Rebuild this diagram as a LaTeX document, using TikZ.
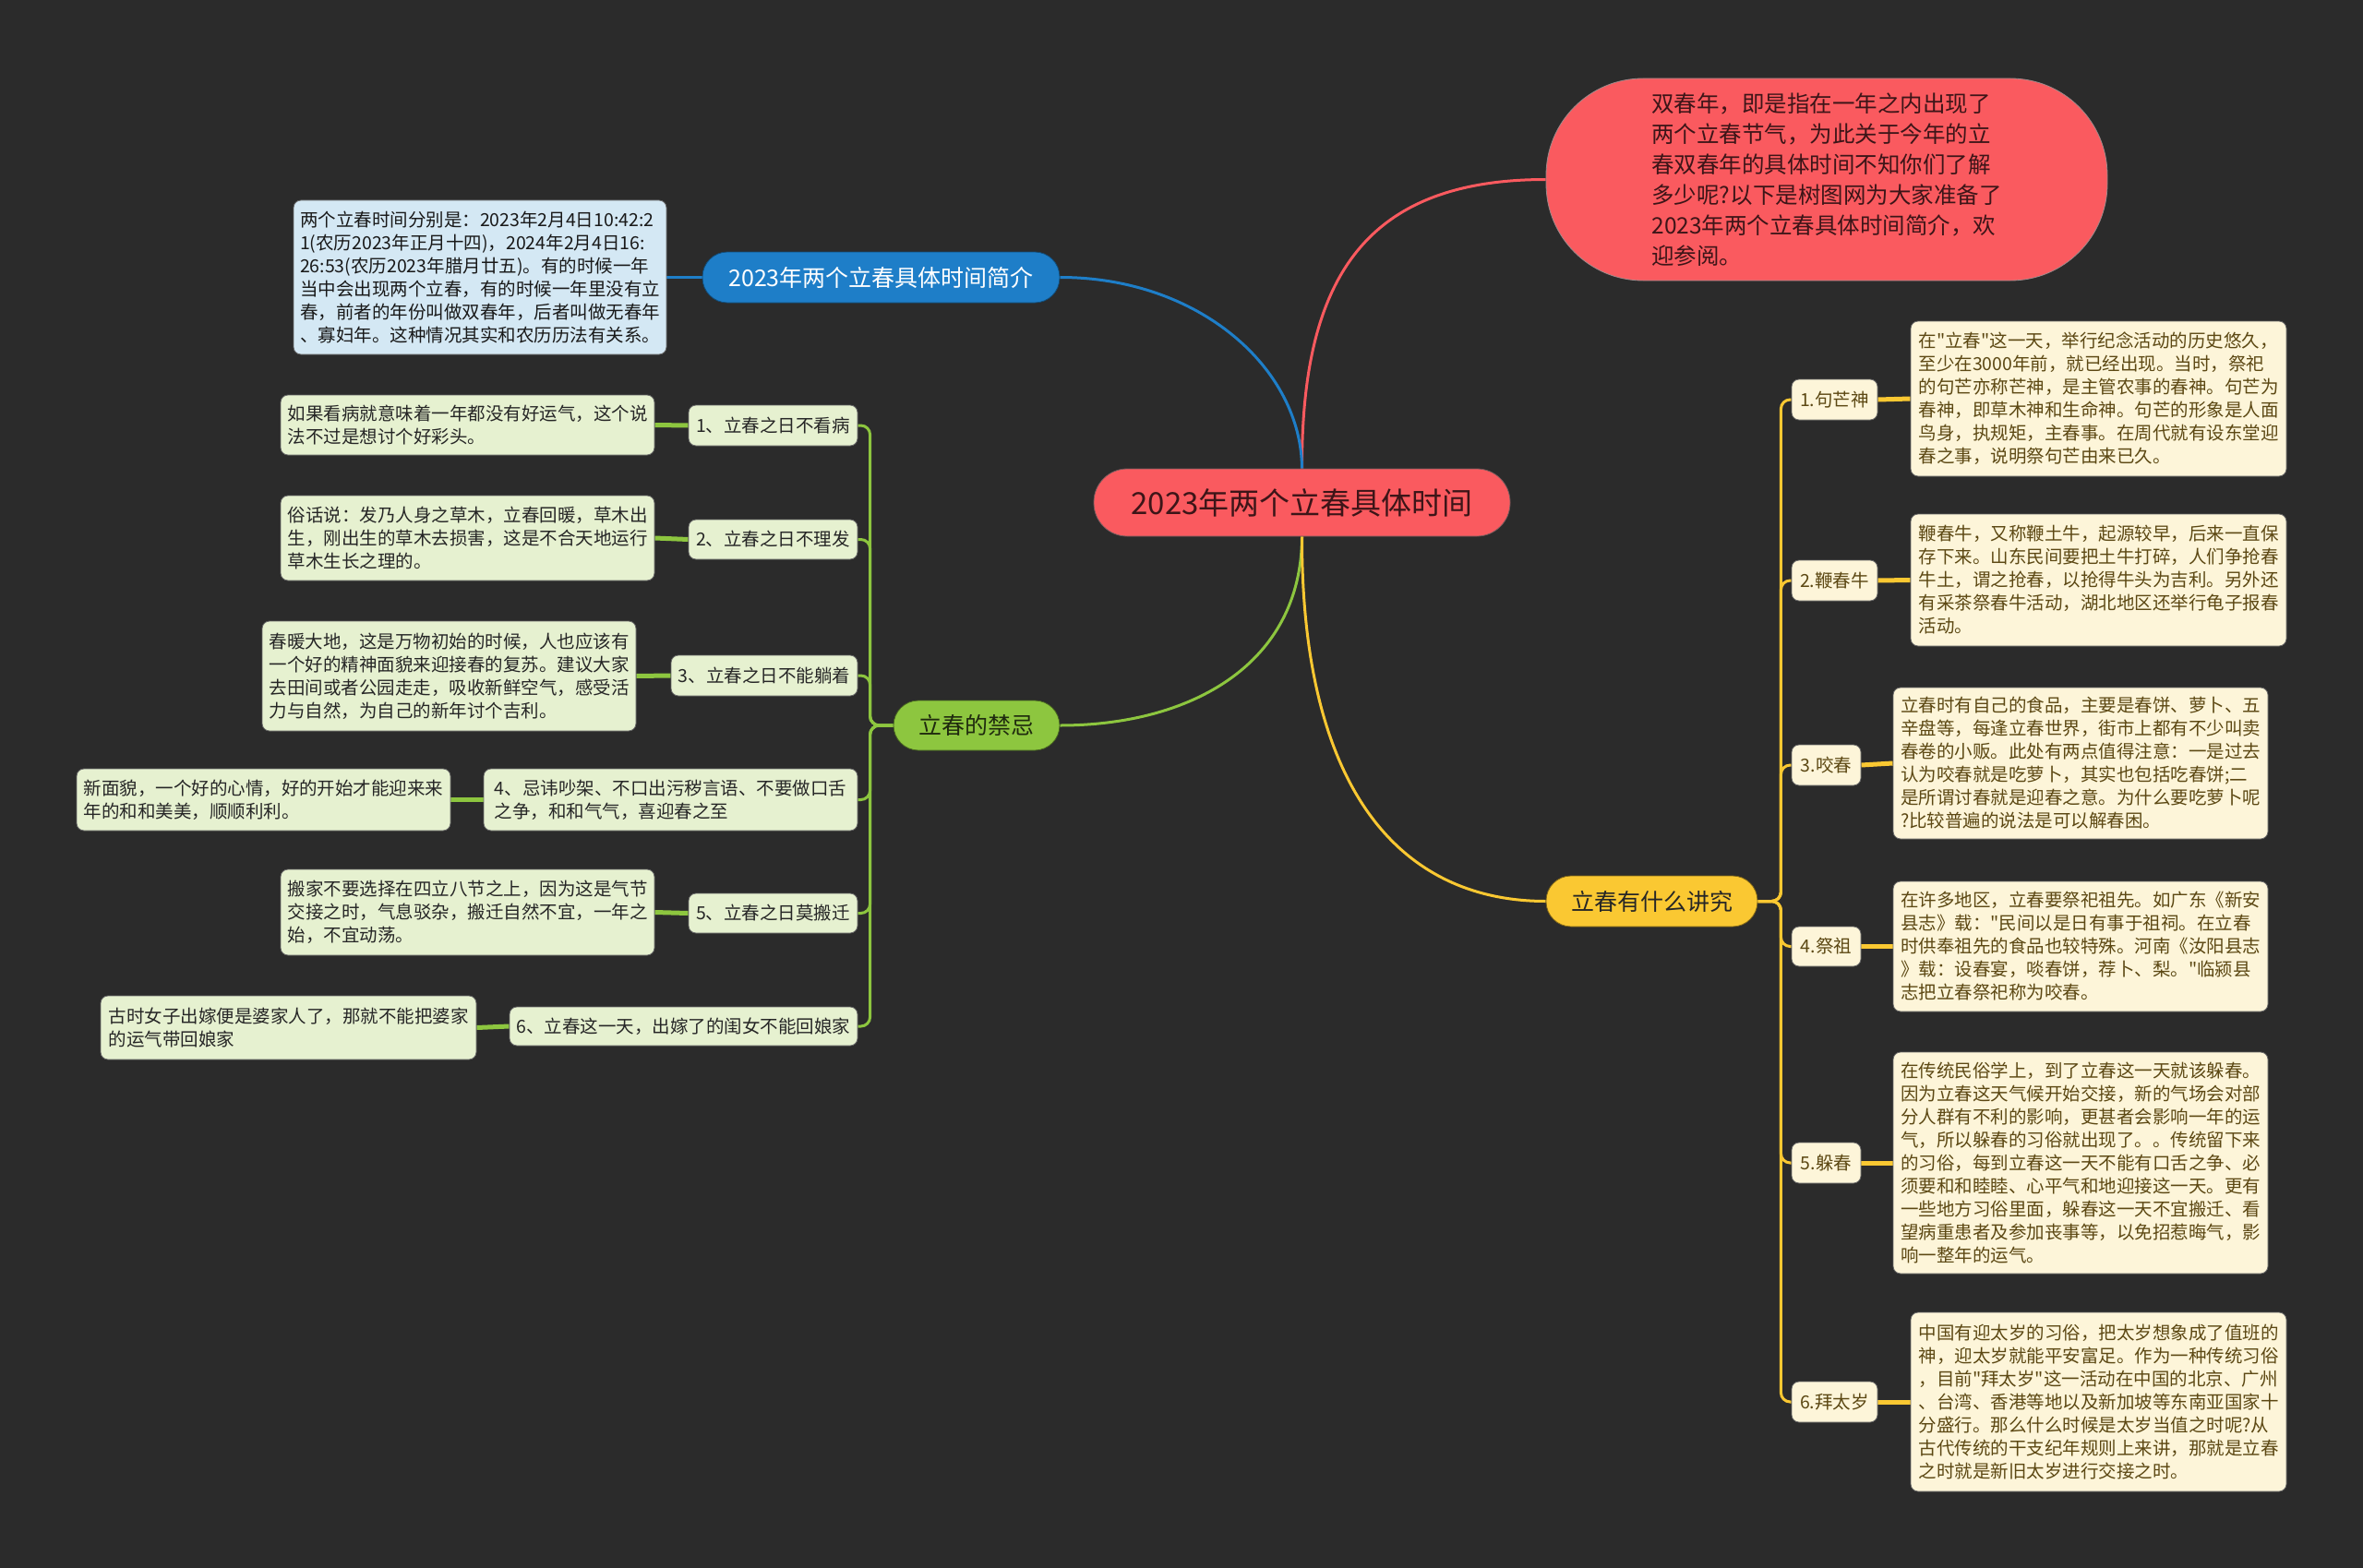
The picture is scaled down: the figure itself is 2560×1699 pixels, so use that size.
\documentclass[tikz,border=0pt]{standalone}
\usepackage{fontspec}
\newfontfamily\cjk{Noto Sans CJK SC}
\usetikzlibrary{backgrounds}
\definecolor{bgc}{HTML}{2B2B2B}
\definecolor{redc}{HTML}{FA5A5F}
\definecolor{redt}{HTML}{3D1518}
\definecolor{bluec}{HTML}{1E7EC8}
\definecolor{bluel}{HTML}{D4E8F4}
\definecolor{greenc}{HTML}{8DC63F}
\definecolor{greenl}{HTML}{E6F1D0}
\definecolor{greent}{HTML}{1F2A0E}
\definecolor{yellowc}{HTML}{FAC832}
\definecolor{yellowl}{HTML}{FDF5D9}
\definecolor{yellowt}{HTML}{5C4813}
\begin{document}
\begin{tikzpicture}[x=1pt,y=-1pt,
  base/.style={inner sep=0pt, align=left, line width=0.8pt},
  small/.style={font=\cjk\fontsize{19.5}{25}\selectfont},
  mid/.style={font=\cjk\fontsize{25}{30}\selectfont},
  cnode/.style={base, fill=redc, draw=redt!70, text=redt, rounded corners=36pt, font=\cjk\fontsize{33}{40}\selectfont},
  rnode/.style={base, fill=redc, draw=redt!50, text=redt, rounded corners=105pt, font=\cjk\fontsize{24.5}{33}\selectfont},
  bmain/.style={base, mid, fill=bluec, draw=bluec!60!black, text=white, rounded corners=27pt},
  bleaf/.style={base, small, fill=bluel, draw=black!60, text=black!90, rounded corners=8pt},
  gmain/.style={base, mid, fill=greenc, draw=greenc!50!black, text=greent, rounded corners=27pt},
  gbox/.style={base, small, fill=greenl, draw=black!60, text=black!85, rounded corners=8pt},
  ymain/.style={base, mid, fill=yellowc, draw=yellowc!50!black, text=black!85, rounded corners=27pt},
  ybox/.style={base, small, fill=yellowl, draw=black!60, text=yellowt, rounded corners=8pt},
  mainline/.style={line width=3pt},
  spine/.style={line width=3pt, rounded corners=10pt},
  leafline/.style={line width=5pt}
]
\path[use as bounding box] (0,0) rectangle (2560,1699);

% ---------- nodes ----------
\node[cnode, minimum width=451pt, minimum height=73pt] (c) at (1410.5,544.5) {2023年两个立春具体时间};

\node[rnode, minimum width=608pt, minimum height=219pt] (intro) at (1979,194.5) {双春年，即是指在一年之内出现了\\两个立春节气，为此关于今年的立\\春双春年的具体时间不知你们了解\\多少呢?以下是树图网为大家准备了\\2023年两个立春具体时间简介，欢\\迎参阅。};

\node[bmain, minimum width=387pt, minimum height=55pt] (bm) at (954.5,300.5) {2023年两个立春具体时间简介};
\node[bleaf, minimum width=404pt, minimum height=167pt] (bl) at (520,300.5) {两个立春时间分别是：2023年2月4日10:42:2\\1(农历2023年正月十四)，2024年2月4日16:\\26:53(农历2023年腊月廿五)。有的时候一年\\当中会出现两个立春，有的时候一年里没有立\\春，前者的年份叫做双春年，后者叫做无春年\\、寡妇年。这种情况其实和农历历法有关系。};

\node[gmain, minimum width=180pt, minimum height=54pt] (gm) at (1058,786) {立春的禁忌};
\node[gbox, minimum width=183pt, minimum height=44pt] (g1) at (837.5,461) {1、立春之日不看病};
\node[gbox, minimum width=183pt, minimum height=43pt] (g2) at (837.5,584.5) {2、立春之日不理发};
\node[gbox, minimum width=202pt, minimum height=44pt] (g3) at (828,732) {3、立春之日不能躺着};
\node[gbox, minimum width=405pt, minimum height=67pt] (g4) at (726.5,866.5) {4、忌讳吵架、不口出污秽言语、不要做口舌\\之争，和和气气，喜迎春之至};
\node[gbox, minimum width=183pt, minimum height=43pt] (g5) at (837.5,989.5) {5、立春之日莫搬迁};
\node[gbox, minimum width=377pt, minimum height=42pt] (g6) at (740.5,1112) {6、立春这一天，出嫁了的闺女不能回娘家};

\node[gbox, minimum width=405pt, minimum height=65pt] (l1) at (506.5,460.5) {如果看病就意味着一年都没有好运气，这个说\\法不过是想讨个好彩头。};
\node[gbox, minimum width=405pt, minimum height=92pt] (l2) at (506.5,583) {俗话说：发乃人身之草木，立春回暖，草木出\\生，刚出生的草木去损害，这是不合天地运行\\草木生长之理的。};
\node[gbox, minimum width=405pt, minimum height=119pt] (l3) at (486.5,732.5) {春暖大地，这是万物初始的时候，人也应该有\\一个好的精神面貌来迎接春的复苏。建议大家\\去田间或者公园走走，吸收新鲜空气，感受活\\力与自然，为自己的新年讨个吉利。};
\node[gbox, minimum width=405pt, minimum height=67pt] (l4) at (285.5,866.5) {新面貌，一个好的心情，好的开始才能迎来来\\年的和和美美，顺顺利利。};
\node[gbox, minimum width=405pt, minimum height=93pt] (l5) at (506.5,988.5) {搬家不要选择在四立八节之上，因为这是气节\\交接之时，气息驳杂，搬迁自然不宜，一年之\\始，不宜动荡。};
\node[gbox, minimum width=407pt, minimum height=69pt] (l6) at (312.5,1113.5) {古时女子出嫁便是婆家人了，那就不能把婆家\\的运气带回娘家};

\node[ymain, minimum width=229pt, minimum height=55pt] (ym) at (1789.5,976.5) {立春有什么讲究};
\node[ybox, minimum width=93pt, minimum height=44pt] (y1) at (1987.5,433) {1.句芒神};
\node[ybox, minimum width=93pt, minimum height=44pt] (y2) at (1987.5,629) {2.鞭春牛};
\node[ybox, minimum width=75pt, minimum height=44pt] (y3) at (1978.5,829) {3.咬春};
\node[ybox, minimum width=75pt, minimum height=43pt] (y4) at (1978.5,1025.5) {4.祭祖};
\node[ybox, minimum width=75pt, minimum height=44pt] (y5) at (1978.5,1260) {5.躲春};
\node[ybox, minimum width=93pt, minimum height=44pt] (y6) at (1987.5,1519) {6.拜太岁};

\node[ybox, minimum width=407pt, minimum height=168pt] (r1) at (2273.5,432) {在"立春"这一天，举行纪念活动的历史悠久，\\至少在3000年前，就已经出现。当时，祭祀\\的句芒亦称芒神，是主管农事的春神。句芒为\\春神，即草木神和生命神。句芒的形象是人面\\鸟身，执规矩，主春事。在周代就有设东堂迎\\春之事，说明祭句芒由来已久。};
\node[ybox, minimum width=407pt, minimum height=143pt] (r2) at (2273.5,628.5) {鞭春牛，又称鞭土牛，起源较早，后来一直保\\存下来。山东民间要把土牛打碎，人们争抢春\\牛土，谓之抢春，以抢得牛头为吉利。另外还\\有采茶祭春牛活动，湖北地区还举行龟子报春\\活动。};
\node[ybox, minimum width=406pt, minimum height=164pt] (r3) at (2254,827) {立春时有自己的食品，主要是春饼、萝卜、五\\辛盘等，每逢立春世界，街市上都有不少叫卖\\春卷的小贩。此处有两点值得注意：一是过去\\认为咬春就是吃萝卜，其实也包括吃春饼;二\\是所谓讨春就是迎春之意。为什么要吃萝卜呢\\?比较普遍的说法是可以解春困。};
\node[ybox, minimum width=406pt, minimum height=141pt] (r4) at (2254,1025.5) {在许多地区，立春要祭祀祖先。如广东《新安\\县志》载："民间以是日有事于祖祠。在立春\\时供奉祖先的食品也较特殊。河南《汝阳县志\\》载：设春宴，啖春饼，荐卜、梨。"临颍县\\志把立春祭祀称为咬春。};
\node[ybox, minimum width=406pt, minimum height=240pt] (r5) at (2254,1260) {在传统民俗学上，到了立春这一天就该躲春。\\因为立春这天气候开始交接，新的气场会对部\\分人群有不利的影响，更甚者会影响一年的运\\气，所以躲春的习俗就出现了。。传统留下来\\的习俗，每到立春这一天不能有口舌之争、必\\须要和和睦睦、心平气和地迎接这一天。更有\\一些地方习俗里面，躲春这一天不宜搬迁、看\\望病重患者及参加丧事等，以免招惹晦气，影\\响一整年的运气。};
\node[ybox, minimum width=407pt, minimum height=194pt] (r6) at (2273.5,1519) {中国有迎太岁的习俗，把太岁想象成了值班的\\神，迎太岁就能平安富足。作为一种传统习俗\\，目前"拜太岁"这一活动在中国的北京、广州\\、台湾、香港等地以及新加坡等东南亚国家十\\分盛行。那么什么时候是太岁当值之时呢?从\\古代传统的干支纪年规则上来讲，那就是立春\\之时就是新旧太岁进行交接之时。};

% ---------- connectors ----------
\begin{scope}[on background layer]
\fill[bgc] (0,0) rectangle (2560,1699);
\draw[mainline, redc] (c.north) .. controls (1410,300) and (1480,194.5) .. (intro.west);
\draw[mainline, bluec] (c.north) .. controls (1410,400) and (1300,300.5) .. (bm.east);
\draw[mainline, greenc] (c.south) .. controls (1410,720) and (1290,786) .. (gm.east);
\draw[mainline, yellowc] (c.south) .. controls (1410,860) and (1520,976.5) .. (ym.west);

\draw[mainline, bluec] (bm.west) -- (bl.east);

\foreach \k in {1,...,6}{
  \draw[spine, greenc] (gm.west) -- ++(-25,0) |- (g\k.east);
  \draw[leafline, greenc] (g\k.west) -- (l\k.east);
  \draw[spine, yellowc] (ym.east) -- ++(25,0) |- (y\k.west);
  \draw[leafline, yellowc] (y\k.east) -- (r\k.west);
}
\end{scope}
\end{tikzpicture}
\end{document}
